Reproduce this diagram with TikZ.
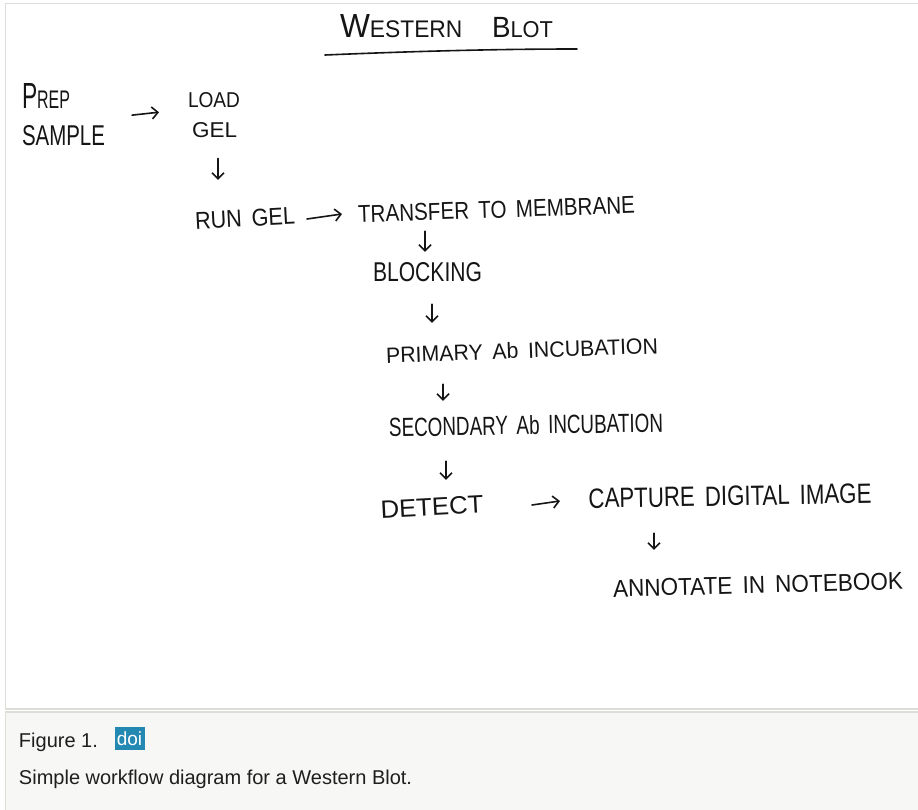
\documentclass[tikz,border=0pt]{standalone}
\usepackage{graphicx}
\usepackage{fontspec}
\setmainfont{Liberation Sans}
\usetikzlibrary{arrows.meta}
\definecolor{ink}{HTML}{151515}
\definecolor{framecol}{HTML}{DEDED8}
\definecolor{capbg}{HTML}{F7F7F5}
\definecolor{doiblue}{HTML}{2489B2}
\definecolor{captext}{HTML}{1E1E1E}
\newcommand{\hw}[3]{\resizebox{#1pt}{#2pt}{#3}}
\newcommand{\wsp}{\hspace{0.45em}}
\begin{document}
\begin{tikzpicture}[x=1pt,y=-1pt,
  hand/.style={inner sep=0pt, outer sep=0pt, text=ink},
  hwarrow/.style={draw=ink, line width=1.6pt, line cap=round, -{Straight Barb[length=6pt,width=12pt]}},
  capfont/.style={inner sep=0pt, outer sep=0pt, text=captext, font=\fontsize{20}{20}\selectfont}]
\useasboundingbox (0,0) rectangle (918,809);
\fill[white] (0,0) rectangle (918,809);
\draw[framecol, line width=1.5pt, fill=white] (5.5,3.5) rectangle (925,709);
\draw[framecol, line width=1.5pt, fill=capbg] (5.5,712) rectangle (925,815);

% title
\node[hand] (title) at (446.5,26.5) {\hw{213}{23}{{\fontsize{32}{32}\selectfont W}{\fontsize{23}{23}\selectfont ESTERN}\hspace{30pt}{\fontsize{28}{28}\selectfont B}{\fontsize{22}{22}\selectfont LOT}}};
\draw[ink, line width=1.6pt, line cap=round] (325,55) .. controls (420,51) and (500,49) .. (577,49);

% steps
\node[hand, anchor=north west] (prep) at (22,83) {\vbox{\offinterlineskip\hbox{\hw{48}{25}{{\fontsize{30}{30}\selectfont P}{\fontsize{21}{21}\selectfont REP}}}\vskip17pt\hbox{\hw{83}{20}{SAMPLE}}}};
\node[hand, anchor=north west] (load) at (188,92) {\vbox{\offinterlineskip\hbox{\hw{52}{15}{LOAD}}\vskip15pt\hbox{\hspace{4pt}\hw{45}{15}{GEL}}}};
\node[hand, rotate=3] (run) at (245,218.5) {\hw{100}{17}{RUN\wsp GEL}};
\node[hand, rotate=2] (transfer) at (496.5,209.5) {\hw{277}{17}{TRANSFER\wsp TO\wsp MEMBRANE}};
\node[hand] (blocking) at (427.5,272) {\hw{109}{19}{BLOCKING}};
\node[hand, rotate=2] (primary) at (522,350.5) {\hw{272}{16}{PRIMARY\wsp Ab\wsp INCUBATION}};
\node[hand, rotate=1] (secondary) at (526,425) {\hw{274}{19}{SECONDARY\wsp Ab\wsp INCUBATION}};
\node[hand, rotate=3] (detect) at (432,507) {\hw{103}{17.5}{DETECT}};
\node[hand, rotate=1] (capture) at (730,496) {\hw{283}{19.5}{CAPTURE\wsp DIGITAL\wsp IMAGE}};
\node[hand, rotate=1.5] (annotate) at (758,585) {\hw{290}{17}{ANNOTATE\wsp IN\wsp NOTEBOOK}};

% connectors
\draw[hwarrow] ([shift={(27,1)}]prep.east) -- ([shift={(-29,-2.5)}]load.west);
\draw[hwarrow] ([shift={(4,21)}]load.south) -- ([shift={(-26.56,-30)}]run.north);
\draw[hwarrow] ([shift={(12.07,3.12)}]run.east) -- ([shift={(-16.08,-0.33)}]transfer.west);
\draw[hwarrow] ([shift={(-71.8,13)}]transfer.south) -- ([shift={(-2.5,-10.5)}]blocking.north);
\draw[hwarrow] ([shift={(4.5,22.5)}]blocking.south) -- ([shift={(-89.72,-19.5)}]primary.north);
\draw[hwarrow] ([shift={(-79.28,25.5)}]primary.south) -- ([shift={(-82.83,-14.5)}]secondary.north);
\draw[hwarrow] ([shift={(-80.17,26.5)}]secondary.south) -- ([shift={(14.46,-18.26)}]detect.north);
\draw[hwarrow] ([shift={(48.57,0.69)}]detect.east) -- ([shift={(-28.52,2.53)}]capture.west);
\draw[hwarrow] ([shift={(-76.17,27.25)}]capture.south) -- ([shift={(-103.78,-26.5)}]annotate.north);

% caption
\node[capfont, anchor=base west] (fig) at (19,747) {Figure 1.};
\node[fill=doiblue, text=white, minimum width=30pt, minimum height=23pt, inner sep=0pt, outer sep=0pt, font=\fontsize{19}{19}\selectfont] (doi) at (129.5,738.5) {doi};
\node[capfont, anchor=base west] (captxt) at (19,784) {Simple workflow diagram for a Western Blot.};
\end{tikzpicture}
\end{document}
